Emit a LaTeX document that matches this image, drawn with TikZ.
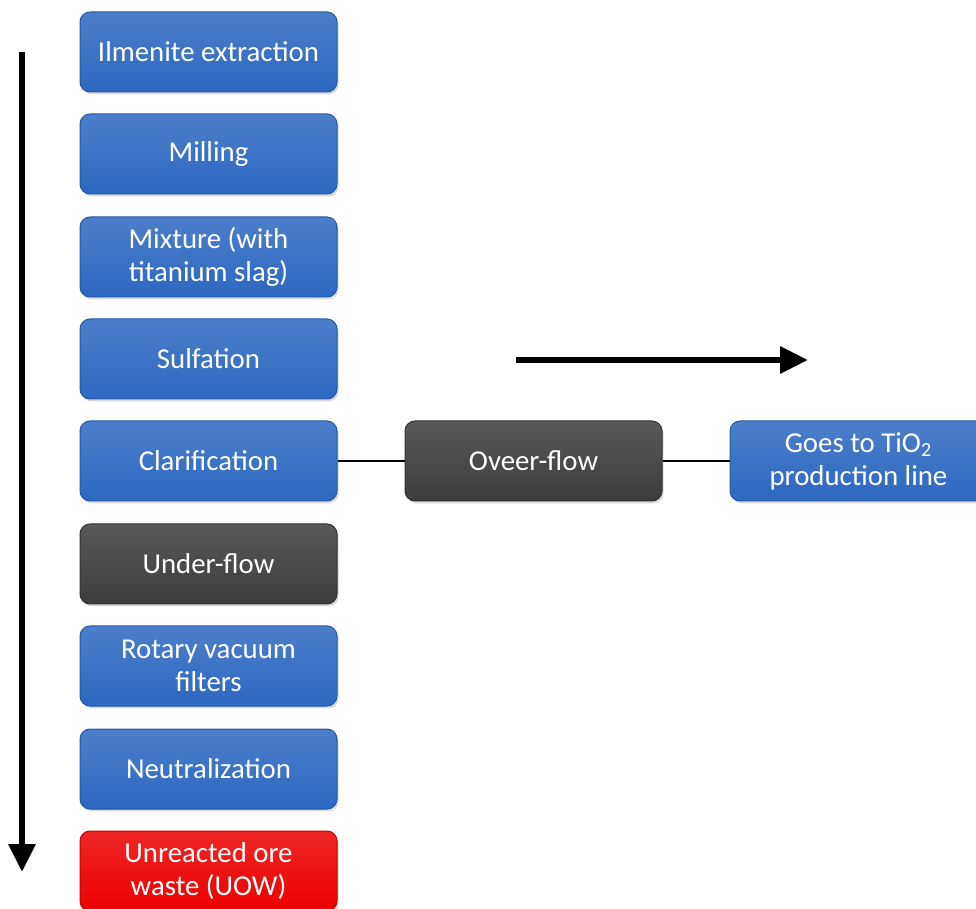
\documentclass[tikz,border=0pt]{standalone}
\usepackage{fontspec}
\setmainfont{Carlito}
\usetikzlibrary{shadows,arrows.meta}
\definecolor{stageblue}{RGB}{44,104,192}
\definecolor{stagegrey}{RGB}{60,60,60}
\definecolor{stagered}{RGB}{236,0,0}
\tikzset{
  stage/.style={draw=#1!85!black, line width=0.5pt, rounded corners=5pt,
    top color=#1!85!white, bottom color=#1, text=white, align=center,
    minimum width=128.5pt, minimum height=40pt, inner sep=2pt,
    font=\fontsize{14.4}{16.5}\selectfont,
    drop shadow={opacity=0.3, shadow xshift=0.8pt, shadow yshift=-1.2pt}},
  link/.style={line width=1.3pt},
  flow/.style={line width=3.2pt, -{Triangle[length=14pt,width=13pt]}}
}
\begin{document}
\begin{tikzpicture}[x=0.5pt,y=-0.5pt]
  \path[use as bounding box, clip] (0,0) rectangle (976,909);
  % process column
  \node[stage=stageblue] (extraction) at (208.5,52) {Ilmenite extraction};
  \node[stage=stageblue] (milling) at (208.5,154) {Milling};
  \node[stage=stageblue] (mixture) at (208.5,257) {Mixture (with\\titanium slag)};
  \node[stage=stageblue] (sulfation) at (208.5,359) {Sulfation};
  \node[stage=stageblue] (clarification) at (208.5,461) {Clarification};
  \node[stage=stagegrey] (underflow) at (208.5,564) {Under-flow};
  \node[stage=stageblue] (filters) at (208.5,666) {Rotary vacuum\\filters};
  \node[stage=stageblue] (neutral) at (208.5,769) {Neutralization};
  \node[stage=stagered] (waste) at (208.5,871) {Unreacted ore\\waste (UOW)};
  % side branch
  \node[stage=stagegrey] (overflow) at (533.5,461) {Oveer-flow};
  \node[stage=stageblue] (tiline) at (858.5,461) {Goes to TiO\textsubscript{2}\\production line};
  \draw[link] (clarification) -- (overflow);
  \draw[link] (overflow) -- (tiline);
  % direction arrows
  \coordinate (downstart) at (22,52);
  \coordinate (downend) at (22,872);
  \coordinate (rightstart) at (516,360);
  \coordinate (rightend) at (808,360);
  \draw[flow] (downstart) -- (downend);
  \draw[flow] (rightstart) -- (rightend);
\end{tikzpicture}
\end{document}
